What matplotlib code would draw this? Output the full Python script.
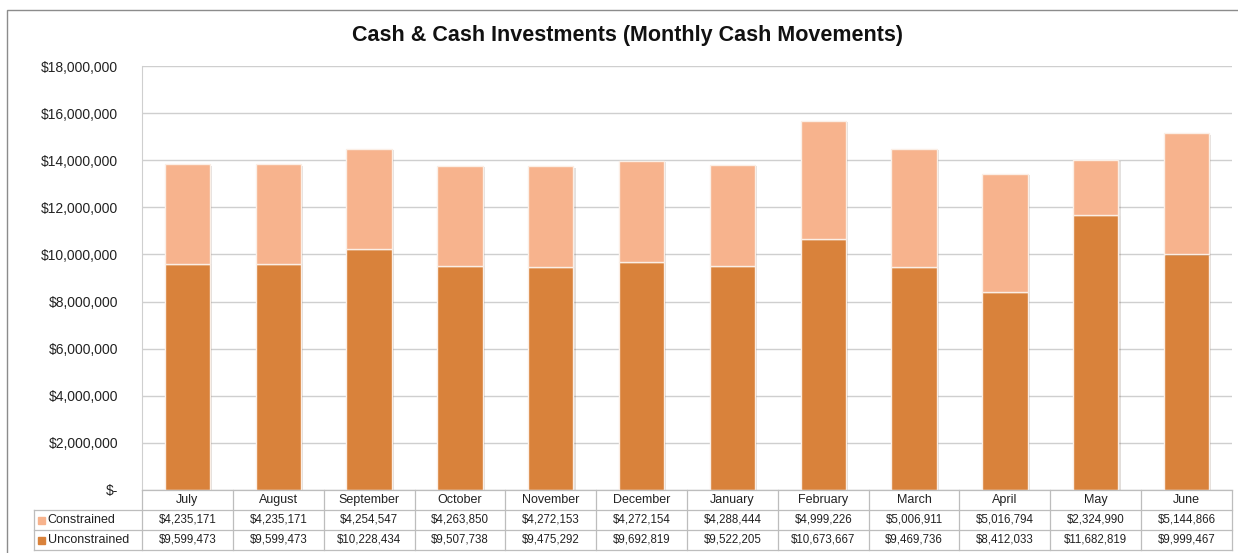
import matplotlib.pyplot as plt
import matplotlib.patheffects as pe
from matplotlib.patches import Rectangle
from matplotlib.ticker import FuncFormatter

plt.rcParams['font.family'] = ['Liberation Sans', 'DejaVu Sans']

# data
months = ['July', 'August', 'September', 'October', 'November', 'December',
          'January', 'February', 'March', 'April', 'May', 'June']
constrained = [4235171, 4235171, 4254547, 4263850, 4272153, 4272154,
               4288444, 4999226, 5006911, 5016794, 2324990, 5144866]
unconstrained = [9599473, 9599473, 10228434, 9507738, 9475292, 9692819,
                 9522205, 10673667, 9469736, 8412033, 11682819, 9999467]
series_names = ['Constrained', 'Unconstrained']

col_light = '#F7B38D'
col_dark = '#D9823B'
grid_col = '#CFCFCF'
line_col = '#BDBDBD'
txt_col = '#222222'

W, H = 1238, 553
fig = plt.figure(figsize=(W / 100, H / 100), dpi=100)
ax_l, ax_r, ax_t, ax_b = 142, 1232, 66, 490
ax = fig.add_axes([ax_l / W, 1 - ax_b / H, (ax_r - ax_l) / W, (ax_b - ax_t) / H])
ax_h = ax_b - ax_t

x = list(range(len(months)))
shadow = [pe.SimplePatchShadow(offset=(1.5, -1), alpha=0.15), pe.Normal()]
b1 = ax.bar(x, unconstrained, width=0.5, color=col_dark, edgecolor='#FBEFE6',
            linewidth=1, zorder=3)
b2 = ax.bar(x, constrained, width=0.5, bottom=unconstrained, color=col_light,
            edgecolor='#FBEFE6', linewidth=1, zorder=3)
for b in list(b1) + list(b2):
    b.set_path_effects(shadow)

ax.set_xlim(-0.5, len(months) - 0.5)
ax.set_ylim(0, 18000000)
ax.set_yticks(range(0, 18000001, 2000000))
ax.yaxis.set_major_formatter(FuncFormatter(lambda v, p: '$-' if v == 0 else f'${v:,.0f}'))
ax.tick_params(axis='y', length=0, pad=17, labelsize=10, labelcolor=txt_col)
ax.set_xticks([])
ax.grid(axis='y', color=grid_col, linewidth=1, zorder=0)
for s in ['top', 'right', 'bottom']:
    ax.spines[s].set_visible(False)
ax.spines['left'].set_color(grid_col)

# data table under the bars (x in data units, y in axes units)
tr = ax.get_xaxis_transform()
row_h = 20 / ax_h
n = len(months)
lab_x = -0.5 - (ax_l - 34) / ((ax_r - ax_l) / n)   # left edge of label column
ys = [0, -row_h, -2 * row_h, -3 * row_h]
ax.plot([-0.5, n - 0.5], [0, 0], transform=tr, color=line_col, lw=0.9, clip_on=False, zorder=5)
for yy in ys[1:]:
    ax.plot([lab_x, n - 0.5], [yy, yy], transform=tr, color=line_col, lw=0.9, clip_on=False)
ax.plot([lab_x, lab_x], [ys[1], ys[3]], transform=tr, color=line_col, lw=0.9, clip_on=False)
for i in range(n + 1):
    ax.plot([i - 0.5, i - 0.5], [0, ys[3]], transform=tr, color=line_col, lw=0.9, clip_on=False)

rows = [constrained, unconstrained]
for i, m in enumerate(months):
    ax.text(i, -0.5 * row_h, m, transform=tr, ha='center', va='center',
            fontsize=9, color=txt_col)
    for r, vals in enumerate(rows):
        ax.text(i, -(r + 1.5) * row_h, f'${vals[i]:,.0f}', transform=tr,
                ha='center', va='center', fontsize=8.3, color=txt_col)

# row labels with colour keys
key_w = 0.075
for r, (name, c) in enumerate(zip(series_names, [col_light, col_dark])):
    yc = -(r + 1.5) * row_h
    ax.add_patch(Rectangle((lab_x + 0.045, yc - 3.5 / ax_h), key_w, 7 / ax_h,
                           transform=tr, color=c, clip_on=False))
    ax.text(lab_x + 0.15, yc, name, transform=tr, ha='left', va='center',
            fontsize=9, color=txt_col)

# outer border of the chart area
fig.patches.append(Rectangle((7 / W, -0.05), 1.1, 1 - 10 / H + 0.05,
                             transform=fig.transFigure, fill=False,
                             edgecolor='#8C8C8C', linewidth=1))

fig.text(627 / W, 1 - 35 / H, 'Cash & Cash Investments (Monthly Cash Movements)',
         ha='center', va='center', fontsize=15.5, fontweight='bold', color='#111111')

fig.savefig('out.png', dpi=100)
